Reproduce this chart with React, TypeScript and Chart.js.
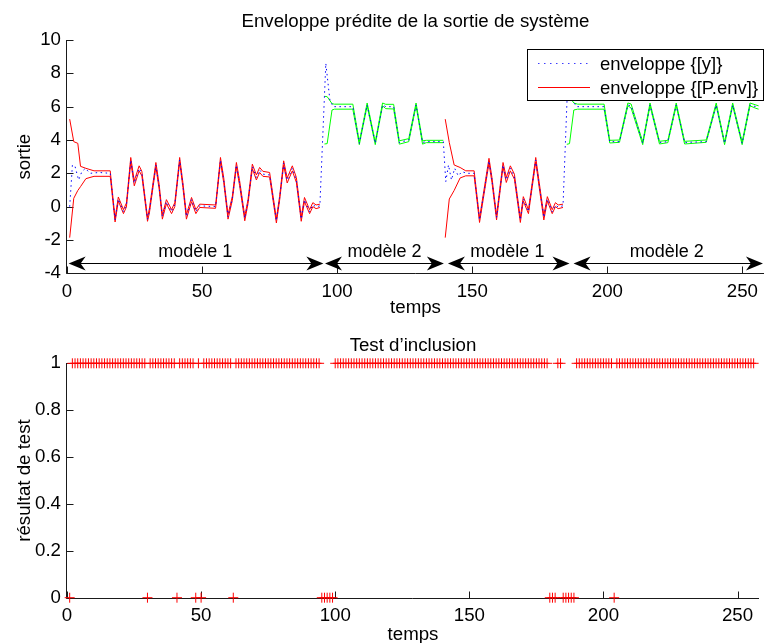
import React, { useEffect, useRef } from 'react';
import { Chart, registerables } from 'chart.js';

Chart.register(...registerables);

const FONT = '"Liberation Sans", Arial, Helvetica, sans-serif';
const FS = 18.7;

// ---------- axis ticks ----------
const xTicks = [0, 50, 100, 150, 200, 250];
const yTicksTop = [-4, -2, 0, 2, 4, 6, 8, 10];
const yTicksBottom = [0, 0.2, 0.4, 0.6, 0.8, 1];
const yTickLabelsBottom = ['0', '0.2', '0.4', '0.6', '0.8', '1'];

// ---------- measured output y (blue dotted) ----------
const tY = [1, 2, 3, 4.3, 5.5, 6.8, 8.5, 12, 16, 17.8,
  19, 20.9, 22, 23.6, 24.9, 26.7, 27.7, 29.8, 30.5, 32.9,
  34.1, 35.3, 36.8, 38.7, 39.9, 41.7, 42.9, 44.2, 46.1, 47.7,
  49.1, 55, 56.8, 58, 59.6, 61.2, 62.7, 63.9, 65.8, 67,
  68.6, 70.1, 71.3, 72.5, 75, 77.5, 78.7, 80.2, 81.5, 83.4,
  84.9, 86.7, 87.9, 89.8, 91, 92.2, 93.6, 95.8, 97.3, 98.5,
  105.8, 108.2, 111.1, 114.1, 116.8, 118, 120.9, 123, 126.5, 129.2,
  131.6, 133, 139.3, 140.2, 141.2, 142.3, 143.5, 144.8, 146.2, 148,
  150.7, 152.7, 156.2, 157.3, 159, 161.4, 162.6, 164.1, 165.6, 167.8,
  168.9, 170.8, 173.5, 174.7, 176.5, 177.8, 179.6, 180.8, 181.8, 183.6,
  185.6, 187.2, 188.5, 198.8, 200.9, 204.5, 207.6, 208.8, 213.1, 215.8,
  219.3, 222.4, 225.5, 228.6, 236.6, 240.3, 243.4, 246.4, 249.9, 252.8,
  255, 256];
const vY = [0.0, 2.5, 2.4, 1.6, 2.1, 2.3, 2.0, 2.05, 2.0, -0.8,
  0.46, -0.3, 0.1, 2.8, 1.4, 2.3, 2.0, -0.75, -0.25, 2.5,
  1.2, -0.6, 0.3, -0.3, 0.12, 2.8, 1.3, -0.6, 0.42, -0.3,
  0.05, 0.0, 2.8, 1.6, -0.6, 0.5, 2.5, 1.4, -0.7, 0.3,
  2.4, 1.75, 2.2, 1.95, 1.9, -0.85, 0.5, 2.6, 1.57, 2.3,
  1.6, -0.75, 0.42, -0.3, 0.12, -0.02, 0.05, 8.6, 6.4, 6.0,
  6.0, 3.8, 6.1, 3.8, 6.1, 6.0, 6.0, 3.85, 4.0, 6.1,
  3.85, 3.9, 3.9, 1.5, 2.5, 1.6, 2.3, 1.85, 2.1, 2.0,
  2.0, -0.8, 2.75, 1.6, -0.65, 2.5, 1.6, 2.3, 1.8, -0.8,
  0.46, -0.3, 2.8, 1.4, -0.65, 0.46, -0.3, 0.1, -0.02, 0.05,
  8.6, 6.4, 6.0, 6.0, 3.9, 3.9, 6.1, 6.05, 3.8, 6.1,
  3.85, 3.9, 6.1, 3.85, 3.9, 6.1, 3.8, 6.1, 3.8, 6.1,
  6.0, 5.95];

// ---------- model 1 envelope, first window (red) ----------
const tA = [1, 2.5, 4, 5, 7, 10, 16, 17.8, 19, 20.9, 22, 23.6, 24.9, 26.7, 27.7, 29.8, 30.5, 32.9, 34.1, 35.3,
  36.8, 38.7, 39.9, 41.7, 42.9, 44.2, 46.1, 47.7, 49.1, 55, 56.8, 58, 59.6, 61.2, 62.7, 63.9, 65.8, 67, 68.6,
  70.1, 71.3, 72.5, 75, 77.5, 78.7, 80.2, 81.5, 83.4, 84.9, 86.7, 87.9, 89.8, 91, 92.2, 93.6];
const upA = [5.25, 3.9, 3.8, 2.42, 2.3, 2.15, 2.15, -0.7, 0.58, -0.18, 0.22, 2.95, 1.55, 2.45, 2.12, -0.65, -0.12, 2.65, 1.35, -0.48,
  0.42, -0.18, 0.24, 2.95, 1.45, -0.48, 0.55, -0.18, 0.15, 0.1, 2.95, 1.75, -0.48, 0.62, 2.65, 1.55, -0.58, 0.42, 2.55,
  1.9, 2.35, 2.12, 2.05, -0.72, 0.62, 2.75, 1.72, 2.45, 1.75, -0.62, 0.55, -0.18, 0.24, 0.1, 0.15];
const loA = [-1.86, 0.5, 0.97, 1.2, 1.68, 1.82, 1.82, -0.92, 0.34, -0.42, -0.02, 2.68, 1.25, 2.15, 1.85, -0.88, -0.38, 2.38, 1.05, -0.75,
  0.18, -0.42, 0.0, 2.68, 1.15, -0.75, 0.3, -0.42, -0.05, -0.1, 2.68, 1.45, -0.75, 0.38, 2.38, 1.25, -0.85, 0.18, 2.28,
  1.6, 2.05, 1.82, 1.78, -0.98, 0.38, 2.48, 1.42, 2.15, 1.45, -0.88, 0.3, -0.42, 0.0, -0.12, -0.05];

// ---------- model 2 envelope, first window (green) ----------
const tB = [95.3, 96.3, 98.1, 99, 105.8, 108.2, 111.1, 114.1, 116.8, 118, 120.9, 123, 126.5, 129.2, 131.6, 133, 139.3];
const upB = [6.62, 6.6, 6.18, 6.15, 6.15, 3.9, 6.22, 3.9, 6.22, 6.14, 6.14, 3.95, 4.08, 6.22, 3.95, 3.98, 3.98];
const loB = [3.76, 3.78, 5.8, 5.85, 5.85, 3.72, 6.05, 3.72, 6.05, 5.88, 5.86, 3.75, 3.9, 6.05, 3.75, 3.84, 3.84];

// ---------- model 1 envelope, second window (red) ----------
const tC = [140, 141.5, 143.3, 145.5, 147.6, 150.7, 152.7, 156.2, 157.3, 159, 161.4, 162.6, 164.1, 165.6, 167.8,
  168.9, 170.8, 173.5, 174.7, 176.5, 177.8, 179.6, 180.8, 181.8, 183.6];
const upC = [5.25, 3.85, 2.5, 2.35, 2.15, 2.15, -0.68, 2.9, 1.75, -0.52, 2.65, 1.75, 2.45, 1.95, -0.68,
  0.6, -0.18, 2.95, 1.55, -0.52, 0.6, -0.18, 0.24, 0.1, 0.15];
const loC = [-1.86, 0.46, 0.97, 1.72, 1.85, 1.85, -0.95, 2.62, 1.45, -0.8, 2.38, 1.45, 2.15, 1.65, -0.95,
  0.34, -0.42, 2.68, 1.25, -0.8, 0.34, -0.42, 0.0, -0.12, -0.05];

// ---------- model 2 envelope, second window (green) ----------
const tD = [185, 186, 187.6, 189, 198.8, 200.9, 204.5, 207.6, 208.8, 213.1, 215.8, 219.3, 222.4, 225.5, 228.6,
  236.6, 240.3, 243.4, 246.4, 249.9, 252.8, 255, 256];
const upD = [6.62, 6.6, 6.22, 6.15, 6.15, 3.98, 4.0, 6.22, 6.16, 3.88, 6.22, 3.92, 3.98, 6.22, 3.92,
  4.0, 6.22, 3.88, 6.22, 3.88, 6.22, 6.1, 6.05];
const loD = [3.74, 3.78, 5.8, 5.85, 5.85, 3.82, 3.86, 6.05, 5.92, 3.72, 6.05, 3.76, 3.84, 6.05, 3.76,
  3.86, 6.05, 3.72, 6.05, 3.72, 6.05, 5.9, 5.85];

// ---------- model windows (annotations) ----------
const spanStart = [0.6, 95.5, 141, 187.5];
const spanEnd = [94.9, 139.5, 186, 257.6];
const spanLabels = ['modèle 1', 'modèle 2', 'modèle 1', 'modèle 2'];
const spanLabelT = [47.5, 117.5, 163, 222];
const arrowLevel = -3.4;
const spanLabelLevel = -3.05;

// ---------- inclusion test ----------
const testTimes = Array.from({ length: 256 }, (_, i) => i + 1);
const failTimes = [1, 30, 41, 48, 50, 62, 95, 96, 97, 98, 99, 180, 181, 182, 185, 186, 187, 188, 189, 204];

const legendLabels = ['enveloppe {[y]}', 'enveloppe {[P.env]}'];
const topTitle = 'Enveloppe prédite de la sortie de système';
const bottomTitle = 'Test d’inclusion';

const pts = (t: number[], v: number[]) => t.map((x, i) => ({ x, y: v[i] }));

const AXIS_COLOR = '#1a1a1a';

function drawAxes(chart: any, yTicks: number[]) {
  const { ctx, chartArea: ca, scales } = chart;
  const xs = scales.x, ys = scales.y;
  ctx.save();
  ctx.strokeStyle = AXIS_COLOR;
  ctx.lineWidth = 1;
  const L = Math.round(ca.left) - 0.5;
  const B = Math.round(ca.bottom) + 0.5;
  ctx.beginPath();
  ctx.moveTo(L, Math.round(ca.top));
  ctx.lineTo(L, B);
  ctx.lineTo(ca.right, B);
  for (const t of xTicks) {
    const px = Math.round(xs.getPixelForValue(t)) + 0.5;
    ctx.moveTo(px, B);
    ctx.lineTo(px, B - 7);
  }
  for (const v of yTicks) {
    const py = Math.round(ys.getPixelForValue(v)) + 0.5;
    ctx.moveTo(L, py);
    ctx.lineTo(L + 7, py);
  }
  ctx.stroke();
  ctx.restore();
}

function drawText(ctx: any, s: string, x: number, y: number, size: number, rot = 0, align = 'center') {
  ctx.save();
  ctx.font = `${size}px ${FONT}`;
  ctx.fillStyle = '#000';
  ctx.textAlign = align;
  ctx.textBaseline = 'alphabetic';
  ctx.translate(x, y);
  if (rot) ctx.rotate(rot);
  ctx.fillText(s, 0, 0);
  ctx.restore();
}

function arrowHead(ctx: any, tipX: number, y: number, dir: number) {
  const L = 17, W = 7, N = 12;
  ctx.beginPath();
  ctx.moveTo(tipX, y);
  ctx.lineTo(tipX - dir * L, y - W);
  ctx.lineTo(tipX - dir * N, y);
  ctx.lineTo(tipX - dir * L, y + W);
  ctx.closePath();
  ctx.fill();
}

const topPlugin = {
  id: 'topDecor',
  beforeDatasetsDraw(chart: any) {
    drawAxes(chart, yTicksTop);
  },
  afterDraw(chart: any) {
    const { ctx, chartArea: ca, scales } = chart;
    const xs = scales.x, ys = scales.y;
    const cx = (ca.left + ca.right) / 2;
    drawText(ctx, topTitle, cx, 27, FS);
    drawText(ctx, 'temps', cx, 313, FS);
    drawText(ctx, 'sortie', 30, (ca.top + ca.bottom) / 2, FS, -Math.PI / 2);

    // model arrows
    ctx.save();
    ctx.strokeStyle = '#000';
    ctx.fillStyle = '#000';
    ctx.lineWidth = 1;
    const ay = Math.round(ys.getPixelForValue(arrowLevel)) + 0.5;
    for (let i = 0; i < spanStart.length; i++) {
      const x0 = xs.getPixelForValue(spanStart[i]);
      const x1 = xs.getPixelForValue(spanEnd[i]);
      ctx.beginPath();
      ctx.moveTo(x0 + 5, ay);
      ctx.lineTo(x1 - 5, ay);
      ctx.stroke();
      arrowHead(ctx, x0, ay, -1);
      arrowHead(ctx, x1, ay, 1);
      drawText(ctx, spanLabels[i], xs.getPixelForValue(spanLabelT[i]), ys.getPixelForValue(spanLabelLevel), 18);
    }
    ctx.restore();

    // legend box
    ctx.save();
    const lx0 = 527.5, lx1 = 763.5, ly0 = 49.5, ly1 = 100.5;
    ctx.fillStyle = '#fff';
    ctx.fillRect(lx0, ly0, lx1 - lx0, ly1 - ly0);
    ctx.strokeStyle = '#000';
    ctx.lineWidth = 1;
    ctx.strokeRect(lx0, ly0, lx1 - lx0, ly1 - ly0);
    ctx.beginPath();
    ctx.strokeStyle = '#3c3cff';
    ctx.setLineDash([1.5, 4.5]);
    ctx.moveTo(538, 63.5);
    ctx.lineTo(590, 63.5);
    ctx.stroke();
    ctx.setLineDash([]);
    ctx.beginPath();
    ctx.strokeStyle = '#ff0000';
    ctx.moveTo(538, 87.5);
    ctx.lineTo(590, 87.5);
    ctx.stroke();
    ctx.restore();
    drawText(ctx, legendLabels[0], 600, 70, 18.5, 0, 'left');
    drawText(ctx, legendLabels[1], 600, 94, 18.5, 0, 'left');
  },
};

const bottomPlugin = {
  id: 'bottomDecor',
  beforeDatasetsDraw(chart: any) {
    drawAxes(chart, yTicksBottom);
  },
  afterDraw(chart: any) {
    const { ctx, chartArea: ca } = chart;
    const cx = (ca.left + ca.right) / 2;
    drawText(ctx, bottomTitle, cx, 30.5, FS);
    drawText(ctx, 'temps', cx, 320, FS);
    drawText(ctx, 'résultat de test', 30, (ca.top + ca.bottom) / 2, FS, -Math.PI / 2);
  },
};

function xScale(height: number) {
  return {
    type: 'linear' as const,
    min: 0,
    max: 258,
    grid: { display: false, drawTicks: false },
    border: { display: false },
    ticks: { font: { family: FONT, size: FS }, color: '#000', padding: 7, maxRotation: 0, autoSkip: false },
    afterBuildTicks: (s: any) => { s.ticks = xTicks.map((v) => ({ value: v })); },
    afterFit: (s: any) => { s.height = height; },
  };
}

export default function App() {
  const topRef = useRef<HTMLCanvasElement>(null);
  const botRef = useRef<HTMLCanvasElement>(null);

  useEffect(() => {
    const line = (data: any, color: string, extra: any = {}) => ({
      data, borderColor: color, borderWidth: 1, pointRadius: 0, tension: 0, fill: false, ...extra,
    });
    const top = new Chart(topRef.current!, {
      type: 'line',
      data: {
        datasets: [
          line(pts(tY, vY), '#0000ff', { borderDash: [1.5, 3.5] }),
          line(pts(tA, upA), '#ff0000'),
          line(pts(tA, loA), '#ff0000'),
          line(pts(tC, upC), '#ff0000'),
          line(pts(tC, loC), '#ff0000'),
          line(pts(tB, upB), '#00ff00'),
          line(pts(tB, loB), '#00ff00'),
          line(pts(tD, upD), '#00ff00'),
          line(pts(tD, loD), '#00ff00'),
        ] as any,
      },
      options: {
        animation: false,
        responsive: false,
        devicePixelRatio: 1,
        parsing: false as any,
        layout: { padding: { top: 40, left: 0, right: 0, bottom: 0 } },
        plugins: { legend: { display: false }, tooltip: { enabled: false }, title: { display: false } },
        scales: {
          x: xScale(46.7),
          y: {
            type: 'linear',
            min: -4,
            max: 10,
            grid: { display: false, drawTicks: false },
            border: { display: false },
            ticks: { font: { family: FONT, size: FS }, color: '#000', padding: 6, callback: (v: any) => String(v) },
            afterBuildTicks: (s: any) => { s.ticks = yTicksTop.map((v) => ({ value: v })); },
            afterFit: (s: any) => { s.width = 67; },
          },
        },
      } as any,
      plugins: [topPlugin],
    });

    const testData = testTimes.map((t) => ({ x: t, y: failTimes.includes(t) ? 0 : 1 }));
    const bot = new Chart(botRef.current!, {
      type: 'scatter',
      data: {
        datasets: [{
          data: testData,
          pointStyle: 'cross',
          pointRadius: 5,
          borderColor: '#ff0000',
          backgroundColor: '#ff0000',
          borderWidth: 1,
          clip: false,
        }] as any,
      },
      options: {
        animation: false,
        responsive: false,
        devicePixelRatio: 1,
        layout: { padding: { top: 43.3, left: 0, right: 0, bottom: 0 } },
        plugins: { legend: { display: false }, tooltip: { enabled: false }, title: { display: false } },
        scales: {
          x: xScale(45.3),
          y: {
            type: 'linear',
            min: 0,
            max: 1,
            grid: { display: false, drawTicks: false },
            border: { display: false },
            ticks: {
              font: { family: FONT, size: FS }, color: '#000', padding: 6,
              callback: (_v: any, i: number) => yTickLabelsBottom[i],
            },
            afterBuildTicks: (s: any) => { s.ticks = yTicksBottom.map((v) => ({ value: v })); },
            afterFit: (s: any) => { s.width = 67; },
          },
        },
      } as any,
      plugins: [bottomPlugin],
    });

    return () => { top.destroy(); bot.destroy(); };
  }, []);

  return (
    <div style={{ position: 'absolute', left: 0, top: 0, width: 765, height: 643, background: '#fff', overflow: 'hidden' }}>
      <canvas ref={topRef} width={765} height={320} style={{ position: 'absolute', left: 0, top: 0, width: 765, height: 320 }} />
      <canvas ref={botRef} width={765} height={323} style={{ position: 'absolute', left: 0, top: 320, width: 765, height: 323 }} />
    </div>
  );
}
